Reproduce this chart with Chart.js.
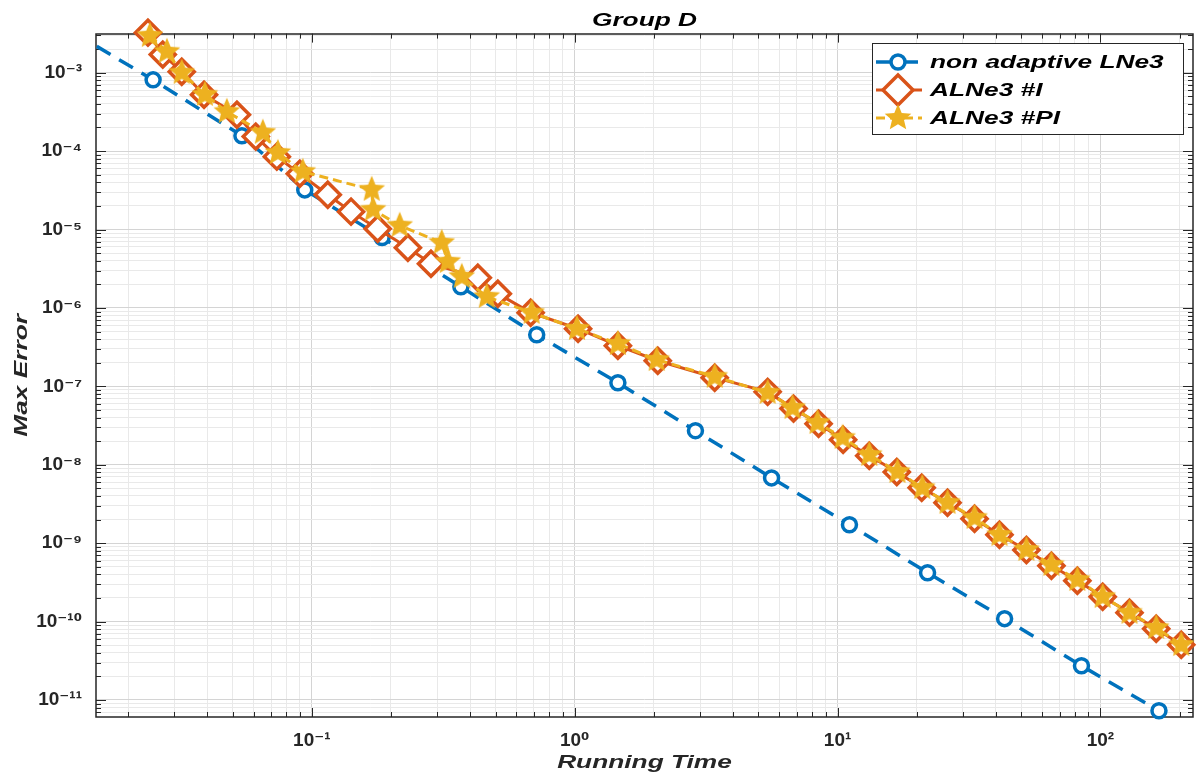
<!DOCTYPE html>
<html>
<head>
<meta charset="utf-8">
<script src="https://cdn.jsdelivr.net/npm/chart.js@4.4.1/dist/chart.umd.min.js"></script>
<style>
  html, body { margin: 0; padding: 0; background: #fff; }
  canvas { display: block; }
</style>
</head>
<body>
<canvas id="myChart" width="1200" height="776"></canvas>
<script>
// values (running time vs max error)
const nonAdaptiveTime = [0.0125, 0.0249, 0.0542, 0.094, 0.185, 0.369, 0.717, 1.46, 2.88, 5.61, 11.1, 22.0, 43.2, 84.7, 167];
const nonAdaptiveErr = [3.2e-3, 8.1e-4, 1.57e-4, 3.2e-5, 7.9e-6, 1.86e-6, 4.55e-7, 1.11e-7, 2.72e-8, 6.8e-9, 1.72e-9, 4.2e-10, 1.09e-10, 2.73e-11, 7.3e-12];

const alne3ITime = [0.0238, 0.0271, 0.0320, 0.0389, 0.0519, 0.0612, 0.0736, 0.090, 0.115, 0.141, 0.178, 0.232, 0.284,
  0.428, 0.510, 0.680, 1.03, 1.46, 2.07, 3.41, 5.42, 6.80, 8.47, 10.5, 13.2, 16.8, 20.9, 26.2, 33.2, 41.3, 52.3,
  65.1, 81.7, 102, 129, 163, 203];
const alne3IErr = [3.24e-3, 1.70e-3, 1.03e-3, 5.24e-4, 2.91e-4, 1.53e-4, 8.5e-5, 5.15e-5, 2.78e-5, 1.69e-5, 1.02e-5,
  5.86e-6, 3.66e-6, 2.43e-6, 1.52e-6, 8.7e-7, 5.43e-7, 3.30e-7, 2.12e-7, 1.29e-7, 8.5e-8, 5.2e-8, 3.33e-8, 2.08e-8,
  1.30e-8, 8.1e-9, 5.1e-9, 3.28e-9, 2.05e-9, 1.28e-9, 8.2e-10, 5.15e-10, 3.32e-10, 2.07e-10, 1.30e-10, 8.1e-11, 5.06e-11];

const alne3PITime = [0.0242, 0.0281, 0.0320, 0.0392, 0.0475, 0.0651, 0.0743, 0.0924, 0.169, 0.171, 0.216, 0.312, 0.329,
  0.372, 0.463, 0.686, 1.02, 1.46, 2.05, 3.41, 5.42, 6.74, 8.39, 10.45, 13.2, 16.9, 21.0, 26.2, 33.2, 41.3, 52.3,
  65.1, 81.7, 102, 129, 163, 203];
const alne3PIErr = [2.96e-3, 1.85e-3, 1.0e-3, 5.24e-4, 3.18e-4, 1.72e-4, 9.5e-5, 5.46e-5, 3.22e-5, 1.79e-5, 1.12e-5,
  6.79e-6, 3.88e-6, 2.50e-6, 1.39e-6, 8.7e-7, 5.43e-7, 3.49e-7, 2.18e-7, 1.33e-7, 8.3e-8, 5.33e-8, 3.43e-8, 2.21e-8,
  1.34e-8, 8.14e-9, 5.09e-9, 3.28e-9, 2.11e-9, 1.28e-9, 8.24e-10, 5.30e-10, 3.41e-10, 2.07e-10, 1.30e-10, 8.33e-11, 5.06e-11];

const seriesLabels = ['non adaptive LNe3', 'ALNe3 #I', 'ALNe3 #PI'];

const xTickExps = [-1, 0, 1, 2];
const xTickLabels = ['10⁻¹', '10⁰', '10¹', '10²'];
const yTickExps = [-11, -10, -9, -8, -7, -6, -5, -4, -3];
const yTickLabels = ['10⁻¹¹', '10⁻¹⁰', '10⁻⁹', '10⁻⁸', '10⁻⁷', '10⁻⁶', '10⁻⁵', '10⁻⁴', '10⁻³'];

const xRange = [0.0151, 225];
const yRange = [6.07e-12, 3.15e-3];

const blue = '#0072BD';
const orange = '#D95319';
const yellow = '#EDB120';

// the figure's italic texts are drawn wide, stretch them along their baseline
const stretch = 1.46;
const origFillText = CanvasRenderingContext2D.prototype.fillText;
CanvasRenderingContext2D.prototype.fillText = function (text, x, y, maxWidth) {
  if (!/italic/.test(this.font)) {
    return maxWidth === undefined ? origFillText.call(this, text, x, y) : origFillText.call(this, text, x, y, maxWidth);
  }
  this.save();
  this.translate(x, y);
  this.scale(stretch, 1);
  origFillText.call(this, text, 0, 0);
  this.restore();
};

function isDecade(v) {
  const l = Math.log10(v);
  return Math.abs(l - Math.round(l)) < 1e-9;
}

function logTicks(min, max) {
  const ticks = [];
  for (let e = Math.floor(Math.log10(min)); e <= Math.ceil(Math.log10(max)); e++) {
    for (let k = 1; k <= 9; k++) {
      const v = k * Math.pow(10, e);
      if (v >= min && v <= max) ticks.push({ value: v });
    }
  }
  return ticks;
}

function decadeLabel(v, exps, labels) {
  if (!isDecade(v)) return '';
  const i = exps.indexOf(Math.round(Math.log10(v)));
  return i >= 0 ? labels[i] : '';
}

function makeStar(r, color) {
  const c = document.createElement('canvas');
  const size = Math.ceil(r * 2 + 2);
  c.width = size;
  c.height = size;
  const g = c.getContext('2d');
  g.beginPath();
  for (let i = 0; i < 10; i++) {
    const rad = i % 2 === 0 ? r : r * 0.45;
    const a = -Math.PI / 2 + i * Math.PI / 5;
    const px = size / 2 + rad * Math.cos(a);
    const py = size / 2 + rad * Math.sin(a);
    if (i === 0) g.moveTo(px, py); else g.lineTo(px, py);
  }
  g.closePath();
  g.fillStyle = color;
  g.fill();
  return c;
}
const starImg = makeStar(14, yellow);

const pts = (xs, ys) => xs.map((x, i) => ({ x: x, y: ys[i] }));

const tickFont = { family: '"Liberation Sans", Arial, "DejaVu Sans", sans-serif', size: 19, weight: 'bold' };
const italicFont = { family: '"Liberation Sans", Arial, sans-serif', size: 18, weight: 'bold', style: 'italic' };
const gridColor = (c) => (c.tick && isDecade(c.tick.value)) ? '#d4d4d4' : '#e9e9e9';

// box round the axes with inward tick marks, like the original
const axesBox = {
  id: 'axesBox',
  beforeDatasetsDraw(chart) {
    const { ctx, chartArea: a, scales } = chart;
    ctx.save();
    ctx.strokeStyle = '#262626';
    ctx.lineWidth = 1;
    ctx.beginPath();
    scales.x.ticks.forEach(t => {
      const px = Math.round(scales.x.getPixelForValue(t.value)) + 0.5;
      const len = isDecade(t.value) ? 9 : 5;
      ctx.moveTo(px, a.bottom); ctx.lineTo(px, a.bottom - len);
      ctx.moveTo(px, a.top); ctx.lineTo(px, a.top + len);
    });
    scales.y.ticks.forEach(t => {
      const py = Math.round(scales.y.getPixelForValue(t.value)) + 0.5;
      const len = isDecade(t.value) ? 10 : 5;
      ctx.moveTo(a.left, py); ctx.lineTo(a.left + len, py);
      ctx.moveTo(a.right, py); ctx.lineTo(a.right - len, py);
    });
    ctx.stroke();
    ctx.lineWidth = 1.5;
    ctx.strokeRect(Math.round(a.left), Math.round(a.top), Math.round(a.right - a.left), Math.round(a.bottom - a.top));
    ctx.restore();
  }
};

// legend inside the axes, top right
const legendBox = {
  id: 'legendBox',
  afterDraw(chart) {
    const { ctx, chartArea } = chart;
    const w = 311, h = 91;
    const left = Math.round(chartArea.right - 10 - w);
    const top = Math.round(chartArea.top + 9);
    ctx.save();
    ctx.fillStyle = '#fff';
    ctx.fillRect(left, top, w, h);
    ctx.strokeStyle = '#262626';
    ctx.lineWidth = 1;
    ctx.strokeRect(left + 0.5, top + 0.5, w, h);
    chart.data.datasets.forEach((ds, i) => {
      const y = top + 19 + i * 28;
      const mx = left + 26;
      ctx.strokeStyle = ds.borderColor;
      ctx.lineWidth = ds.borderWidth;
      ctx.setLineDash(ds.borderDash || []);
      ctx.beginPath();
      ctx.moveTo(left + 4, y);
      ctx.lineTo(left + 50, y);
      ctx.stroke();
      ctx.setLineDash([]);
      ctx.lineWidth = 3.5;
      if (ds.pointStyle === 'circle') {
        ctx.fillStyle = '#fff';
        ctx.beginPath();
        ctx.arc(mx, y, 7, 0, Math.PI * 2);
        ctx.fill();
        ctx.stroke();
      } else if (ds.pointStyle === 'rectRot') {
        const r = 15;
        ctx.fillStyle = '#fff';
        ctx.beginPath();
        ctx.moveTo(mx - r, y); ctx.lineTo(mx, y - r); ctx.lineTo(mx + r, y); ctx.lineTo(mx, y + r);
        ctx.closePath();
        ctx.fill();
        ctx.stroke();
      } else {
        ctx.drawImage(starImg, mx - starImg.width / 2, y - starImg.height / 2);
      }
      ctx.fillStyle = '#000';
      ctx.font = 'italic bold 18px "Liberation Sans", Arial, sans-serif';
      ctx.textAlign = 'left';
      ctx.textBaseline = 'middle';
      ctx.fillText(ds.label, left + 58, y + 1);
    });
    ctx.restore();
  }
};

const clipArea = { left: 0, top: 20, right: 20, bottom: 10 };

const ctx = document.getElementById('myChart');
const myChart = new Chart(ctx, {
  type: 'line',
  data: {
    datasets: [{
      label: seriesLabels[0],
      data: pts(nonAdaptiveTime, nonAdaptiveErr),
      borderColor: blue,
      borderWidth: 3.5,
      borderDash: [16, 10],
      pointStyle: 'circle',
      pointRadius: 7,
      pointBorderWidth: 3.5,
      pointBackgroundColor: '#fff',
      pointBorderColor: blue,
      tension: 0,
      clip: clipArea,
      order: 3
    }, {
      label: seriesLabels[1],
      data: pts(alne3ITime, alne3IErr),
      borderColor: orange,
      borderWidth: 3,
      pointStyle: 'rectRot',
      pointRadius: 12.5,
      pointBorderWidth: 3.5,
      pointBackgroundColor: '#fff',
      pointBorderColor: orange,
      tension: 0,
      clip: clipArea,
      order: 2
    }, {
      label: seriesLabels[2],
      data: pts(alne3PITime, alne3PIErr),
      borderColor: yellow,
      borderWidth: 3,
      borderDash: [9, 5],
      pointStyle: starImg,
      pointRadius: 14,
      pointBackgroundColor: yellow,
      pointBorderColor: yellow,
      tension: 0,
      clip: clipArea,
      order: 1
    }]
  },
  options: {
    responsive: false,
    animation: false,
    devicePixelRatio: 1,
    layout: { autoPadding: false, padding: { left: 0, right: 7, top: 0, bottom: 0 } },
    plugins: {
      legend: { display: false },
      tooltip: { enabled: false },
      title: {
        display: true,
        text: 'Group D',
        fullSize: false,
        color: '#000',
        font: italicFont,
        padding: { top: 10, bottom: 2 }
      }
    },
    scales: {
      x: {
        type: 'logarithmic',
        min: xRange[0],
        max: xRange[1],
        afterBuildTicks: (s) => { s.ticks = logTicks(xRange[0], xRange[1]); },
        afterFit: (s) => { s.height = 59; s.paddingLeft = 0; s.paddingRight = 0; },
        ticks: {
          autoSkip: false,
          maxRotation: 0,
          padding: 0,
          color: '#262626',
          font: tickFont,
          callback: (v) => decadeLabel(v, xTickExps, xTickLabels)
        },
        grid: { color: gridColor, drawTicks: true, tickLength: 12, tickColor: 'rgba(0,0,0,0)', lineWidth: 1 },
        border: { display: false },
        title: { display: true, text: 'Running Time', color: '#262626', font: italicFont, padding: { top: 0, bottom: 2 } }
      },
      y: {
        type: 'logarithmic',
        min: yRange[0],
        max: yRange[1],
        afterBuildTicks: (s) => { s.ticks = logTicks(yRange[0], yRange[1]); },
        afterFit: (s) => { s.width = 96; },
        ticks: {
          autoSkip: false,
          padding: 14,
          color: '#262626',
          font: tickFont,
          callback: (v) => decadeLabel(v, yTickExps, yTickLabels)
        },
        grid: { color: gridColor, drawTicks: false, lineWidth: 1 },
        border: { display: false },
        title: { display: true, text: 'Max Error', color: '#262626', font: italicFont, padding: { top: 11, bottom: 0 } }
      }
    }
  },
  plugins: [axesBox, legendBox]
});
</script>
</body>
</html>
